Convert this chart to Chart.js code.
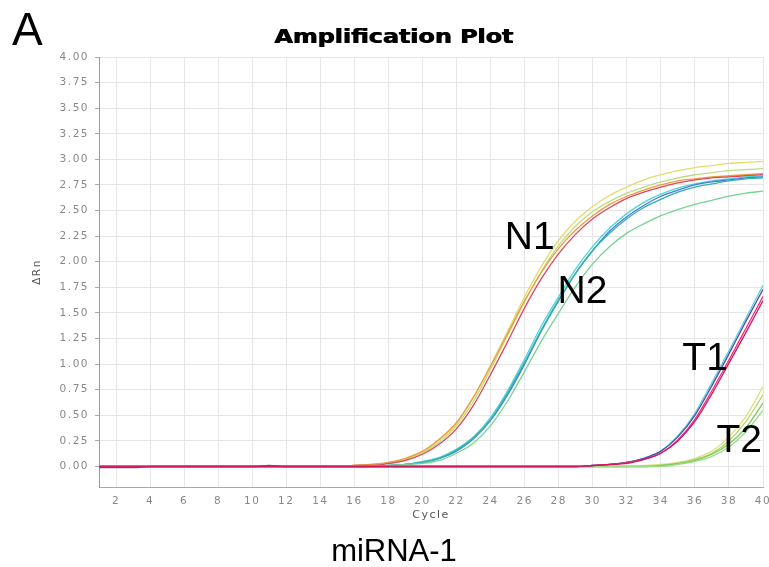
<!DOCTYPE html>
<html>
<head>
<meta charset="utf-8">
<script src="https://cdn.jsdelivr.net/npm/chart.js@4.4.0/dist/chart.umd.min.js"></script>
<style>
html,body{margin:0;padding:0;background:#fff;}
#wrap{width:769px;height:567px;position:relative;}
</style>
</head>
<body>
<div id="wrap"><canvas id="c" width="769" height="567"></canvas></div>
<script>
// ---- data ----
const cycles = [1,2,3,4,5,6,7,8,9,10,11,12,13,14,15,16,17,18,19,20,21,22,23,24,25,26,27,28,29,30,31,32,33,34,35,36,37,38,39,40];
const xTickValues = [2,4,6,8,10,12,14,16,18,20,22,24,26,28,30,32,34,36,38,40];
const yTickValues = [0,0.25,0.5,0.75,1,1.25,1.5,1.75,2,2.25,2.5,2.75,3,3.25,3.5,3.75,4];

const N1a = [0,0,0,0,0,0,0,0,0,0, 0,0,0,0,0,0.01,0.02,0.03,0.07,0.14, 0.26,0.42,0.68,0.99,1.32,1.66,1.96,2.21,2.40,2.54, 2.65,2.73,2.80,2.85,2.89,2.92,2.94,2.96,2.97,2.98];
const N1b = [0,0,0,0,0,0,0,0,0,0, 0,0,0,0,0,0.01,0.02,0.03,0.06,0.13, 0.24,0.40,0.64,0.95,1.28,1.61,1.91,2.16,2.35,2.49, 2.59,2.67,2.73,2.78,2.82,2.85,2.87,2.89,2.90,2.91];
const N1c = [0,0,0,0,0,0,0,0,0,0, 0,0,0,0,0,0.01,0.02,0.04,0.08,0.15, 0.27,0.43,0.68,0.98,1.30,1.62,1.90,2.13,2.31,2.45, 2.56,2.64,2.70,2.75,2.79,2.81,2.83,2.84,2.85,2.86];
const N1d = [0,0,0,0,0,0,0,0,0,0, 0,0,0,0,0,0.01,0.01,0.03,0.06,0.12, 0.22,0.37,0.60,0.90,1.22,1.55,1.84,2.08,2.27,2.42, 2.53,2.62,2.68,2.73,2.77,2.80,2.82,2.83,2.84,2.85];

const N2a = [0,0,0,0,0,0,0,0,0,0, 0,0,0,0,0,0,0,0.01,0.02,0.05, 0.09,0.17,0.29,0.48,0.74,1.05,1.38,1.66,1.93,2.15, 2.33,2.47,2.58,2.66,2.72,2.76,2.79,2.81,2.83,2.84];
const N2b = [0,0,0,0,0,0,0,0,0,0, 0,0,0,0,0,0,0,0.01,0.02,0.04, 0.08,0.15,0.27,0.45,0.70,1.00,1.33,1.62,1.89,2.11, 2.30,2.44,2.55,2.64,2.70,2.75,2.78,2.80,2.82,2.83];
const N2c = [0,0,0,0,0,0,0,0,0,0, 0,0,0,0,0,0,0,0.01,0.02,0.04, 0.08,0.16,0.28,0.46,0.72,1.02,1.34,1.63,1.89,2.11, 2.28,2.42,2.53,2.61,2.68,2.73,2.76,2.79,2.81,2.82];
const N2d = [0,0,0,0,0,0,0,0,0,0, 0,0,0,0,0,0,0,0.01,0.02,0.03, 0.06,0.13,0.23,0.40,0.64,0.93,1.23,1.50,1.76,1.98, 2.15,2.28,2.37,2.45,2.51,2.56,2.60,2.64,2.67,2.69];

const T1a = [0,0,0,0,0,0,0,0,0,0, 0,0,0,0,0,0,0,0,0,0, 0,0,0,0,0,0,0,0,0,0.01, 0.02,0.04,0.08,0.15,0.30,0.52,0.82,1.13,1.45,1.77];
const T1b = [-0.01,-0.01,-0.01,0,0,0,0,0,0,0, 0.01,0,0,0,0,0,0,0,0,0, 0,0,0,0,0,0,0,0,0,0.01, 0.02,0.04,0.08,0.15,0.29,0.50,0.79,1.10,1.42,1.73];
const T1c = [0,0,0,0,0,0,0,0,0,0, 0,0,0,0,0,0,0,0,0,0, 0,0,0,0,0,0,0,0,0,0.01, 0.02,0.04,0.07,0.13,0.26,0.46,0.74,1.04,1.35,1.66];
const T1d = [0,0,0,0,0,0,0,0,0,0, 0,0,0,0,0,0,0,0,0,0, 0,0,0,0,0,0,0,0,0,0.01, 0.02,0.03,0.07,0.13,0.25,0.44,0.71,1.01,1.31,1.62];

const T2a = [0,0,0,0,0,0,0,0,0,0, 0,0,0,0,0,0,0,0,0,0, 0,0,0,0,0,0,0,0,0,0, 0,0,0.01,0.02,0.04,0.08,0.15,0.29,0.49,0.78];
const T2b = [0,0,0,0,0,0,0,0,0,0, 0,0,0,0,0,0,0,0,0,0, 0,0,0,0,0,0,0,0,0,0, 0,0,0,0.01,0.03,0.07,0.13,0.25,0.44,0.70];
const T2c = [0,0,0,0,0,0,0,0,0,0, 0,0,0,0,0,0,0,0,0,0, 0,0,0,0,0,0,0,0,0,0, 0,0,0,0.01,0.03,0.06,0.12,0.22,0.38,0.62];
const T2d = [0,0,0,0,0,0,0,0,0,0, 0,0,0,0,0,0,0,0,0,0, 0,0,0,0,0,0,0,0,0,0, 0,0,0,0,0.02,0.05,0.10,0.19,0.34,0.55];

const annLabels = ['N1','N2','T1','T2'];
const annX = [26.3, 29.4, 36.6, 38.6];
const annY = [2.23, 1.70, 1.05, 0.25];

// ---- styles ----
const seriesList = [
  {d:T1d, c:'#d0185a'}, {d:T1c, c:'#e8307f'}, {d:T1b, c:'#5a4aa8'}, {d:T1a, c:'#58d4e4'},
  {d:T2d, c:'#98dc84'}, {d:T2c, c:'#7cc864'}, {d:T2b, c:'#b4d864'}, {d:T2a, c:'#e0e07c'},
  {d:N2d, c:'#74d494'}, {d:N2c, c:'#34b4a4'}, {d:N2b, c:'#4a78dc'}, {d:N2a, c:'#4cd8d8'},
  {d:N1d, c:'#dc4860'}, {d:N1c, c:'#ec9c40'}, {d:N1b, c:'#bcdc80'}, {d:N1a, c:'#e4dc68'}
];

const datasets = seriesList.map(s => ({
  data: s.d.map((v,i) => ({x: cycles[i], y: v})),
  borderColor: s.c,
  borderWidth: 1.3,
  pointRadius: 0,
  cubicInterpolationMode: 'monotone',
  fill: false
}));

const textPlugin = {
  id: 'texts',
  beforeDraw(chart) { chart.ctx.letterSpacing = '1.5px'; },
  afterDraw(chart) {
    const ctx = chart.ctx;
    const xs = chart.scales.x, ys = chart.scales.y;
    ctx.save();
    ctx.letterSpacing = '0px';
    ctx.fillStyle = '#000';
    // panel letter
    ctx.font = '46px "Liberation Sans", Arial, sans-serif';
    ctx.textAlign = 'left'; ctx.textBaseline = 'alphabetic';
    ctx.fillText('A', 12, 45);
    // bottom caption
    ctx.font = '31px "Liberation Sans", Arial, sans-serif';
    ctx.textAlign = 'center';
    ctx.fillText('miRNA-1', 394, 561);
    // group labels
    ctx.font = '39px "Liberation Sans", Arial, sans-serif';
    ctx.textBaseline = 'middle';
    annLabels.forEach((t,i) => ctx.fillText(t, xs.getPixelForValue(annX[i]), ys.getPixelForValue(annY[i])));
    // title
    ctx.font = 'bold 19px "DejaVu Sans", sans-serif';
    const w = ctx.measureText('Amplification Plot').width;
    ctx.translate(394, 38);
    ctx.scale(239 / w, 1);
    ctx.textBaseline = 'middle';
    ctx.fillText('Amplification Plot', -0.4, 0);
    ctx.fillText('Amplification Plot', 0.4, 0);
    ctx.restore();
    ctx.letterSpacing = '0px';
  }
};

new Chart(document.getElementById('c'), {
  type: 'line',
  data: { datasets },
  plugins: [textPlugin],
  options: {
    responsive: false,
    animation: false,
    devicePixelRatio: 1,
    layout: { padding: { left: 0, right: 6, top: 57, bottom: 40 } },
    plugins: { legend: { display: false }, tooltip: { enabled: false }, title: { display: false } },
    scales: {
      x: {
        type: 'linear', min: 1, max: 40,
        afterBuildTicks: s => { s.ticks = xTickValues.map(v => ({value: v})); },
        afterFit: s => { s.height = 40; s.paddingLeft = 0; s.paddingRight = 0; },
        ticks: { color: '#888', font: { family: 'DejaVu Sans', size: 10.5 }, padding: 4, maxRotation: 0, autoSkip: false,
                 callback: v => String(v) },
        grid: { color: '#e6e6e6', tickLength: 4, tickColor: 'rgba(0,0,0,0)' },
        border: { color: '#aaa', width: 1 },
        title: { display: true, text: 'Cycle', color: '#555', font: { family: 'DejaVu Sans', size: 11 }, padding: { top: 0, bottom: 5 } }
      },
      y: {
        type: 'linear', min: -0.2, max: 4,
        afterBuildTicks: s => { s.ticks = yTickValues.map(v => ({value: v})); },
        afterFit: s => { s.width = 99; s.paddingTop = 0; s.paddingBottom = 0; },
        ticks: { color: '#888', font: { family: 'DejaVu Sans', size: 10.5 }, padding: 6,
                 callback: v => Number(v).toFixed(2) },
        grid: { color: '#e6e6e6', tickLength: 4, tickColor: '#aaa' },
        border: { color: '#999', width: 1 },
        title: { display: true, text: 'ΔRn', color: '#555', font: { family: 'DejaVu Sans', size: 10.5 }, padding: { top: 31, bottom: 0 } }
      }
    }
  }
});
</script>
</body>
</html>
